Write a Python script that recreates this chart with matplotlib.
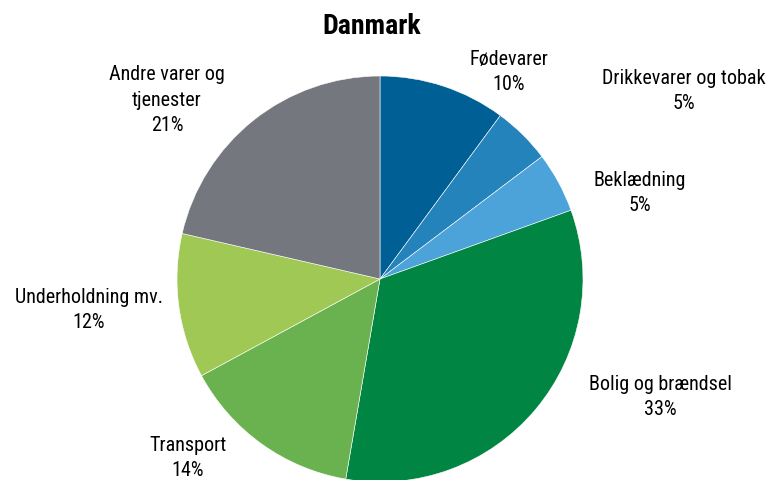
import matplotlib
matplotlib.use('Agg')
import matplotlib.pyplot as plt

categories = ['Fødevarer', 'Drikkevarer og tobak', 'Beklædning', 'Bolig og brændsel',
              'Transport', 'Underholdning mv.', 'Andre varer og\ntjenester']
shares = [10.1, 4.6, 4.8, 33.2, 14.4, 11.5, 21.4]
colors = ['#005f94', '#2583bb', '#4ba3da', '#008542', '#6ab250', '#a0c855', '#75777f']

# label centres in pixels (x, y from top) - layout only
label_pos = [(509, 72), (684, 91), (640, 193), (660, 397), (188, 458), (89, 310), (167, 100)]

W, H = 772, 481
fig = plt.figure(figsize=(W / 100, H / 100), dpi=100)
ax = fig.add_axes([0, 0, 1, 1])

ax.pie(shares, colors=colors, startangle=90, counterclock=False,
       center=(380, H - 280), radius=203, frame=True,
       wedgeprops=dict(linewidth=0.4, edgecolor='white'))
ax.set_xlim(0, W)
ax.set_ylim(0, H)
ax.set_aspect('auto')
ax.axis('off')

fam = ['Roboto Condensed', 'DejaVu Sans']
for cat, val, (x, y) in zip(categories, shares, label_pos):
    ax.text(x, H - y, f'{cat}\n{round(val)}%', ha='center', va='center',
            fontsize=14.5, family=fam, linespacing=1.45)

ax.text(372, H - 26, 'Danmark', ha='center', va='center', fontsize=20,
        fontweight='bold', family=fam)

fig.savefig('out.png', dpi=100)
